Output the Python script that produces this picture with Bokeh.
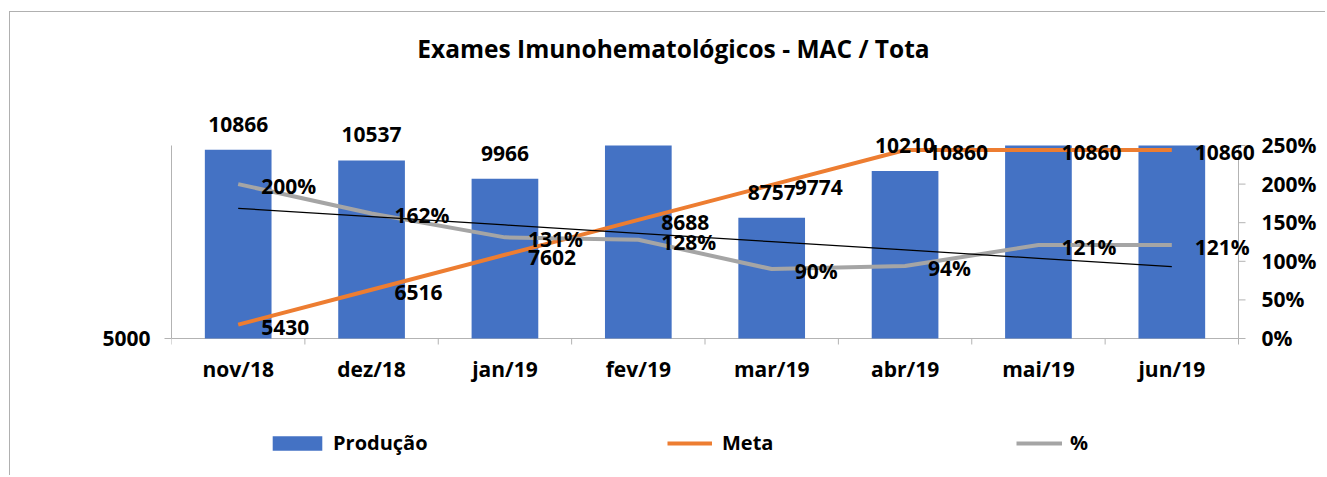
import numpy as np
from bokeh.plotting import figure
from bokeh.models import (Range1d, FixedTicker, ColumnDataSource, LabelSet, Label,
                          Legend, LegendItem)
from bokeh.embed import file_html
from bokeh.resources import INLINE
from bokeh.core.properties import value

# ---------------- data ----------------
months = ["nov/18", "dez/18", "jan/19", "fev/19", "mar/19", "abr/19", "mai/19", "jun/19"]
producao = [10866, 10537, 9966, 11121, 8757, 10210, 13140, 13142]
meta = [5430, 6516, 7602, 8688, 9774, 10860, 10860, 10860]
pct = [2.00, 1.62, 1.31, 1.28, 0.90, 0.94, 1.21, 1.21]
left_ticks = [5000]
right_ticks = [0.0, 0.5, 1.0, 1.5, 2.0, 2.5]
title_text = "Exames Imunohematológicos - MAC / Tota"
LEFT_MIN, LEFT_MAX = 5000, 11000
PCT_MIN, PCT_MAX = 0.0, 2.5

# ---------------- geometry (page pixels) ----------------
W, H = 1316, 464
OX, OY = 10, 12                       # canvas origin on the page
PL, PR, PT, PB = 171, 1238, 145, 338  # plot-area edges (axes)
FONT = "Open Sans"
BLUE, ORANGE, GRAY, AXC = "#4472C4", "#ED7D31", "#A5A5A5", "#B3B3B3"

n = len(months)
xs = np.arange(n) + 0.5
xpp = n / (PR - PL)                               # x units per px
upp = (LEFT_MAX - LEFT_MIN) / (PB - PT)           # left units per px
ppp = (PCT_MAX - PCT_MIN) / (PB - PT)             # pct units per px
x_end = n + (OX + W - PR) * xpp
y_start = LEFT_MIN - (OY + H - PB) * upp
y_end = LEFT_MAX + (PT - OY) * upp
p_start = PCT_MIN - (OY + H - PB) * ppp
p_end = PCT_MAX + (PT - OY) * ppp

p = figure(width=W, height=H, x_range=Range1d(0, x_end), y_range=Range1d(y_start, y_end),
           title=None, output_backend="svg", toolbar_location=None, x_axis_type=None,
           min_border_left=PL - OX, min_border_right=0, min_border_top=0, min_border_bottom=0)
p.extra_y_ranges = {"pct": Range1d(p_start, p_end)}
p.margin = (11, 0, 0, 9)
p.styles = {"border-top": "1px solid #B0B0B0", "border-left": "1px solid #B0B0B0"}
p.outline_line_color = None
p.xgrid.visible = False
p.ygrid.visible = False
p.background_fill_color = "white"
p.border_fill_color = "white"

# left axis (real Bokeh axis)
ya = p.yaxis[0]
ya.ticker = FixedTicker(ticks=left_ticks)
ya.bounds = (LEFT_MIN, LEFT_MAX)
ya.major_tick_out = 7
ya.major_tick_in = 0
ya.minor_tick_line_color = None
ya.axis_line_color = AXC
ya.major_tick_line_color = AXC
ya.major_label_standoff = 14
ya.major_label_text_font = FONT
ya.major_label_text_font_style = "bold"
ya.major_label_text_font_size = "21px"
ya.major_label_text_color = "black"

lab_kw = dict(text_font=value(FONT), text_font_style="bold", text_font_size="21px",
              text_color="black")

# ---------------- category axis (drawn at y = LEFT_MIN) ----------------
bounds_x = np.arange(n + 1)
p.segment(x0=[0], y0=[LEFT_MIN], x1=[n], y1=[LEFT_MIN], line_color=AXC, line_width=1)
p.segment(x0=bounds_x, y0=LEFT_MIN, x1=bounds_x, y1=LEFT_MIN - 6 * upp,
          line_color=AXC, line_width=1)
cat_src = ColumnDataSource(dict(x=xs, y=[LEFT_MIN] * n, t=months))
p.add_layout(LabelSet(x="x", y="y", text="t", source=cat_src, text_align="center",
                      text_baseline="alphabetic", y_offset=-38, **lab_kw))

# ---------------- percent axis (drawn at x = n) ----------------
p.segment(x0=[n], y0=[PCT_MIN], x1=[n], y1=[PCT_MAX], line_color=AXC, line_width=1,
          y_range_name="pct")
p.segment(x0=n, y0=right_ticks, x1=n + 7 * xpp, y1=right_ticks, line_color=AXC,
          line_width=1, y_range_name="pct")
rt_src = ColumnDataSource(dict(x=[n] * len(right_ticks), y=right_ticks,
                               t=["%d%%" % round(t * 100) for t in right_ticks]))
p.add_layout(LabelSet(x="x", y="y", text="t", source=rt_src, y_range_name="pct",
                      text_align="left", text_baseline="alphabetic",
                      x_offset=23, y_offset=-7.5, **lab_kw))

# ---------------- glyphs ----------------
prod_arr = np.array(producao, dtype=float)
src = ColumnDataSource(dict(x=xs, top=np.minimum(prod_arr, LEFT_MAX), meta=meta, pct=pct))
bars = p.vbar(x="x", top="top", bottom=LEFT_MIN, width=0.5, source=src,
              fill_color=BLUE, line_color=None)
meta_r = p.line(x="x", y="meta", source=src, line_color=ORANGE, line_width=4)
pct_r = p.line(x="x", y="pct", source=src, line_color=GRAY, line_width=4, y_range_name="pct")

# linear trendline of %
slope, icpt = np.polyfit(np.arange(n), np.array(pct), 1)
trend_y = icpt + slope * np.arange(n)
p.line(x=list(xs), y=list(trend_y), line_color="black", line_width=1.2, y_range_name="pct")

# ---------------- data labels ----------------
vis = prod_arr <= LEFT_MAX
bar_src = ColumnDataSource(dict(x=xs[vis], y=prod_arr[vis],
                                t=[str(v) for v, ok in zip(producao, vis) if ok]))
p.add_layout(LabelSet(x="x", y="y", text="t", source=bar_src, text_align="center",
                      text_baseline="alphabetic", y_offset=18, **lab_kw))
meta_src = ColumnDataSource(dict(x=xs, y=meta, t=[str(v) for v in meta]))
p.add_layout(LabelSet(x="x", y="y", text="t", source=meta_src, text_align="left",
                      text_baseline="alphabetic", x_offset=23, y_offset=-10, **lab_kw))
pct_src = ColumnDataSource(dict(x=xs, y=pct, t=["%d%%" % round(v * 100) for v in pct]))
p.add_layout(LabelSet(x="x", y="y", text="t", source=pct_src, y_range_name="pct",
                      text_align="left", text_baseline="alphabetic",
                      x_offset=23, y_offset=-10, **lab_kw))

# title
TITLE_CX, TITLE_BASE = 673, 48
p.add_layout(Label(x=(TITLE_CX - PL) * xpp, y=LEFT_MIN + (PB - TITLE_BASE) * upp,
                   text=title_text, text_align="center", text_baseline="alphabetic",
                   text_font=FONT, text_font_style="bold", text_font_size="24.5px",
                   text_color="black"))

# ---------------- legends ----------------
LEG_BOTTOM = 456
def add_leg(label, rend, left, gw, gh, standoff):
    lg = Legend(items=[LegendItem(label=label, renderers=[rend])],
                location=(left - PL, OY + H - LEG_BOTTOM), orientation="horizontal",
                padding=0, margin=0, spacing=0, border_line_color=None,
                background_fill_alpha=0, glyph_width=gw, glyph_height=gh,
                label_standoff=standoff, label_height=gh,
                label_text_font=FONT, label_text_font_style="bold",
                label_text_font_size="20px", label_text_color="black")
    p.add_layout(lg, "center")

add_leg("Produção", bars, 266, 62, 18, 5)
add_leg("Meta", meta_r, 667, 45, 18, 10)
add_leg("%", pct_r, 1016, 46, 18, 8)

open("out.html", "w").write(file_html(p, INLINE))
